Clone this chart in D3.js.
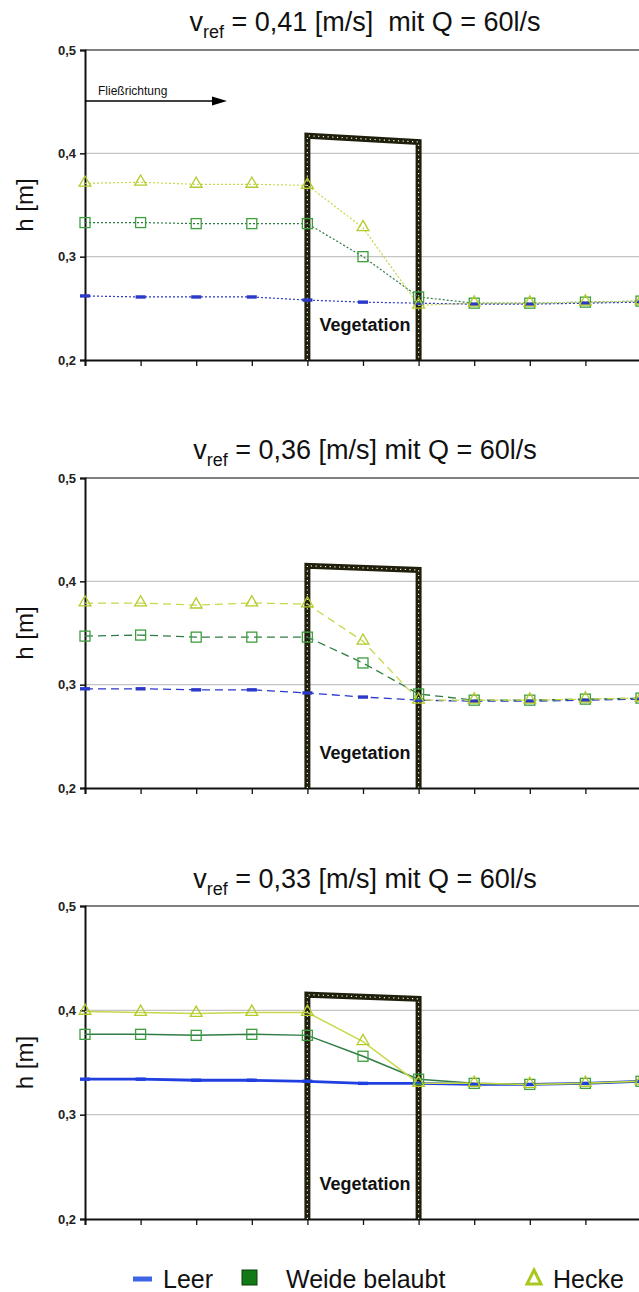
<!DOCTYPE html>
<html>
<head>
<meta charset="utf-8">
<script src="https://cdn.jsdelivr.net/npm/d3@7"></script>
<style>
  body { margin: 0; background: #fff; }
  svg { display: block; font-family: "Liberation Sans", Arial, sans-serif; }
  text { white-space: pre; }
</style>
</head>
<body>
<script>
// Messstellen entlang der Rinne (Index)
const stations = [0, 1, 2, 3, 4, 5, 6, 7, 8, 9, 10];
const yTicks = [0.2, 0.3, 0.4, 0.5];
const vrefLabels = ["0,41", "0,36", "0,33"];
const titleGap = ["  ", " ", " "];
const vegStart = 4, vegEnd = 6;
const vegTop = [[0.417, 0.411], [0.415, 0.411], [0.415, 0.411]];

// v_ref = 0,41
const leer1  = [0.262, 0.261, 0.261, 0.261, 0.258, 0.256, 0.255, 0.254, 0.254, 0.255, 0.256];
const weide1 = [0.333, 0.333, 0.332, 0.332, 0.332, 0.300, 0.261, 0.255, 0.255, 0.256, 0.257];
const hecke1 = [0.371, 0.372, 0.370, 0.370, 0.369, 0.328, 0.253, 0.255, 0.255, 0.256, 0.257];
// v_ref = 0,36
const leer2  = [0.296, 0.296, 0.295, 0.295, 0.292, 0.288, 0.285, 0.284, 0.284, 0.285, 0.286];
const weide2 = [0.347, 0.348, 0.346, 0.346, 0.346, 0.321, 0.291, 0.285, 0.285, 0.286, 0.287];
const hecke2 = [0.379, 0.379, 0.377, 0.379, 0.378, 0.342, 0.285, 0.285, 0.285, 0.286, 0.287];
// v_ref = 0,33
const leer3  = [0.334, 0.334, 0.333, 0.333, 0.332, 0.330, 0.330, 0.329, 0.329, 0.330, 0.332];
const weide3 = [0.377, 0.377, 0.376, 0.377, 0.376, 0.356, 0.334, 0.330, 0.329, 0.330, 0.332];
const hecke3 = [0.399, 0.398, 0.397, 0.398, 0.398, 0.370, 0.330, 0.330, 0.329, 0.330, 0.332];

const legendNames = ["Leer", "Weide belaubt", "Hecke"];

const W = 639, H = 1292;
const svg = d3.select("body").append("svg").attr("width", W).attr("height", H);

const x = d3.scaleLinear().domain([0, 10]).range([85, 641]);

const panels = [
  { top: 50,  bottom: 360,  titleY: 31,  dash: "2,2", width: 1.2, leer: leer1, weide: weide1, hecke: hecke1 },
  { top: 478, bottom: 788,  titleY: 459, dash: "8,5", width: 1.3, leer: leer2, weide: weide2, hecke: hecke2 },
  { top: 906, bottom: 1219, titleY: 888, dash: null,  width: 1.5, leer: leer3, weide: weide3, hecke: hecke3 }
];

const cLeer = "#2b38c8", cWeideLine = "#2f7d45", cWeide = "#3c9e3c", cHeckeLine = "#c8d84a", cHecke = "#b4ca2a";

panels.forEach(function(p, k) {
  const y = d3.scaleLinear().domain([0.2, 0.5]).range([p.bottom, p.top]);
  const g = svg.append("g");

  // title
  const t = g.append("text")
    .attr("x", 365).attr("y", p.titleY)
    .attr("text-anchor", "middle")
    .attr("font-size", 27)
    .attr("fill", "#111");
  t.append("tspan").text("v");
  t.append("tspan").attr("dy", 7).attr("font-size", 18).text("ref");
  t.append("tspan").attr("dy", -7).text(" = " + vrefLabels[k] + " [m/s]" + titleGap[k] + "mit Q = 60l/s");

  // grid
  g.selectAll("line.grid").data([0.3, 0.4]).enter().append("line")
    .attr("x1", 85).attr("x2", W).attr("y1", d => y(d)).attr("y2", d => y(d))
    .attr("stroke", "#c4c4c4").attr("stroke-width", 1.2);
  g.append("line").attr("x1", 85).attr("x2", W).attr("y1", y(0.5)).attr("y2", y(0.5))
    .attr("stroke", "#555").attr("stroke-width", 1.6);

  // y axis
  const ya = d3.axisLeft(y).tickValues(yTicks).tickSize(5).tickPadding(4)
    .tickFormat(d => d3.format(".1f")(d).replace(".", ","));
  g.append("g").attr("transform", "translate(85,0)").call(ya)
    .call(s => s.select(".domain").attr("stroke", "#111").attr("stroke-width", 2))
    .call(s => s.selectAll(".tick line").attr("stroke", "#111").attr("stroke-width", 1.5))
    .call(s => s.selectAll(".tick text").attr("font-size", 13).attr("font-weight", "bold")
      .attr("fill", "#222").attr("font-family", "Liberation Sans, Arial, sans-serif"));

  // x axis
  const xa = d3.axisBottom(x).tickValues(stations).tickSize(6).tickFormat("");
  g.append("g").attr("transform", "translate(0," + p.bottom + ")").call(xa)
    .call(s => s.select(".domain").attr("stroke", "#111").attr("stroke-width", 2))
    .call(s => s.selectAll(".tick line").attr("stroke", "#111").attr("stroke-width", 1.3));

  // y label
  g.append("text")
    .attr("transform", "translate(33," + ((p.top + p.bottom) / 2) + ") rotate(-90)")
    .attr("text-anchor", "middle").attr("font-size", 24).attr("fill", "#111")
    .text("h [m]");

  // vegetation block
  const vegPath = d3.line()([
    [x(vegStart), y(0.2)], [x(vegStart), y(vegTop[k][0])],
    [x(vegEnd), y(vegTop[k][1])], [x(vegEnd), y(0.2)]
  ]);
  g.append("path").attr("d", vegPath).attr("fill", "none")
    .attr("stroke", "#1f1f0c").attr("stroke-width", 6).attr("stroke-linejoin", "miter");
  g.append("path").attr("d", vegPath).attr("fill", "none")
    .attr("stroke", "#f4f4e0").attr("stroke-width", 1.2).attr("stroke-dasharray", "1.2,3.5");
  g.append("text")
    .attr("x", (x(vegStart) + x(vegEnd)) / 2 + 2).attr("y", p.bottom - 29)
    .attr("text-anchor", "middle").attr("font-size", 18).attr("font-weight", "bold")
    .attr("fill", "#111").text("Vegetation");

  // series lines
  const line = d3.line().x((d, i) => x(stations[i])).y(d => y(d));
  const series = [
    { v: p.leer,  c: k === 2 ? "#1f3fe0" : cLeer, w: k === 2 ? 2.8 : p.width },
    { v: p.weide, c: cWeideLine, w: p.width },
    { v: p.hecke, c: cHeckeLine, w: p.width }
  ];
  series.forEach(function(s) {
    g.append("path").datum(s.v).attr("d", line).attr("fill", "none")
      .attr("stroke", s.c).attr("stroke-width", s.w)
      .attr("stroke-dasharray", p.dash);
  });

  // markers: Leer = dash
  g.selectAll("rect.leer").data(p.leer).enter().append("rect")
    .attr("x", (d, i) => x(stations[i]) - 5).attr("y", d => y(d) - 1.7)
    .attr("width", 10).attr("height", 3.4).attr("fill", k === 2 ? "#1f3fe0" : cLeer);
  // Weide = hollow square
  g.selectAll("rect.weide").data(p.weide).enter().append("rect")
    .attr("x", (d, i) => x(stations[i]) - 5).attr("y", d => y(d) - 5)
    .attr("width", 10).attr("height", 10).attr("fill", "none")
    .attr("stroke", cWeide).attr("stroke-width", 1.3);
  // Hecke = hollow triangle
  const tri = d3.symbol().type(d3.symbolTriangle).size(60);
  g.selectAll("path.hecke").data(p.hecke).enter().append("path")
    .attr("d", tri)
    .attr("transform", (d, i) => "translate(" + x(stations[i]) + "," + (y(d) - 0.5) + ")")
    .attr("fill", "none").attr("stroke", cHecke).attr("stroke-width", 1.3);

  // flow direction arrow (first panel only)
  if (k === 0) {
    g.append("text").attr("x", 98).attr("y", 95).attr("font-size", 12).attr("fill", "#111")
      .text("Fließrichtung");
    g.append("line").attr("x1", 85).attr("x2", 214).attr("y1", 101).attr("y2", 101)
      .attr("stroke", "#000").attr("stroke-width", 1.6);
    g.append("path").attr("d", "M212,96.5 L227,101 L212,105.5 Z").attr("fill", "#000");
  }
});

// legend
const lg = svg.append("g").attr("font-size", 25).attr("fill", "#111");
lg.append("line").attr("x1", 133).attr("x2", 152).attr("y1", 1279).attr("y2", 1279)
  .attr("stroke", "#3c64e4").attr("stroke-width", 5);
lg.append("text").attr("x", 163).attr("y", 1288).text(legendNames[0]);
lg.append("rect").attr("x", 242).attr("y", 1270).attr("width", 15).attr("height", 15)
  .attr("fill", "#117a17").attr("stroke", "#0a3f0c").attr("stroke-width", 1);
lg.append("text").attr("x", 286).attr("y", 1288).text(legendNames[1]);
lg.append("path").attr("d", "M534,1270 L541,1284 L527,1284 Z").attr("fill", "none")
  .attr("stroke", "#a8c81e").attr("stroke-width", 3);
lg.append("text").attr("x", 553).attr("y", 1288).text(legendNames[2]);
</script>
</body>
</html>
